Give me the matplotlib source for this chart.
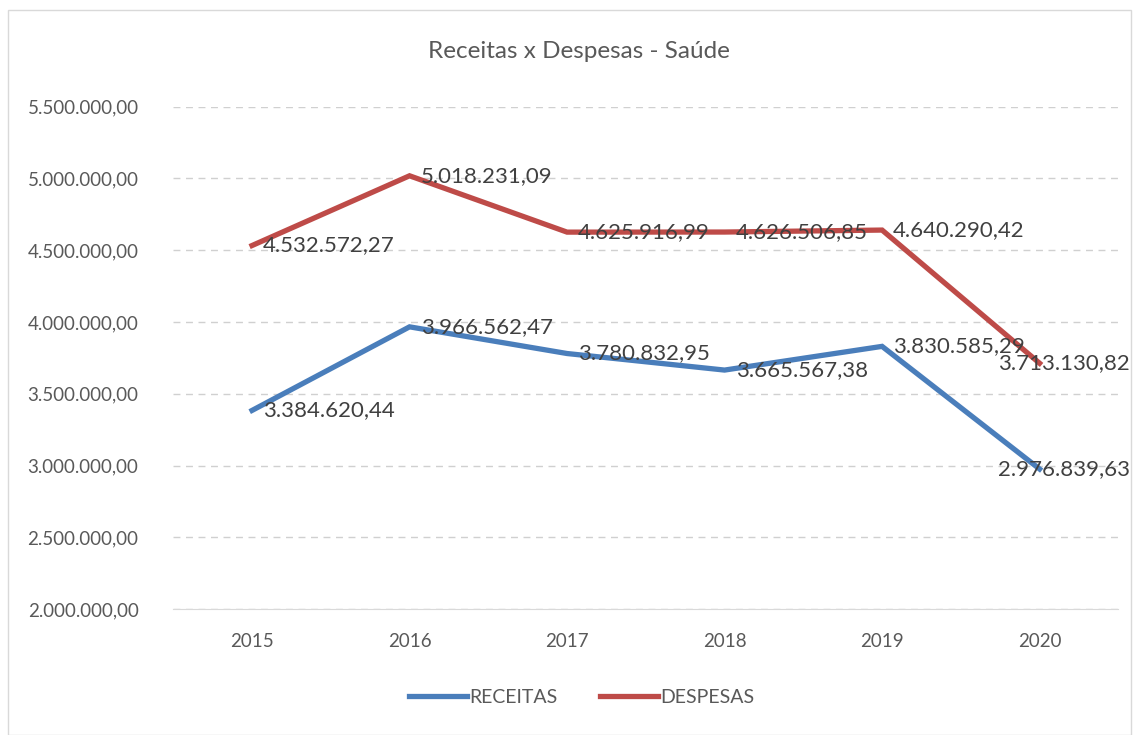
import matplotlib.pyplot as plt
from matplotlib.patches import Rectangle
from matplotlib.ticker import FuncFormatter

anos = ['2015', '2016', '2017', '2018', '2019', '2020']
receitas = [3384620.44, 3966562.47, 3780832.95, 3665567.38, 3830585.29, 2976839.63]
despesas = [4532572.27, 5018231.09, 4625916.99, 4626506.85, 4640290.42, 3713130.82]

plt.rcParams['font.family'] = ['Lato', 'DejaVu Sans']
cinza = '#595959'


def br(v, pos=None):
    s = f'{v:,.2f}'
    return s.replace(',', 'X').replace('.', ',').replace('X', '.')


fig = plt.figure(figsize=(11.4, 7.35), dpi=100)
ax = fig.add_axes([0.152, 0.171, 0.829, 0.684])

x = range(len(anos))
ax.plot(x, receitas, color='#4A7EBB', lw=3.8, label='RECEITAS', solid_joinstyle='miter')
ax.plot(x, despesas, color='#BE4B48', lw=3.8, label='DESPESAS', solid_joinstyle='miter')

# rótulos à direita do ponto; o último é puxado para dentro, como no Excel
for i in x:
    dx = 8 if i < len(anos) - 1 else -30
    ax.annotate(br(receitas[i]), (i, receitas[i]), xytext=(dx, 0), textcoords='offset points',
                va='center', ha='left', fontsize=16, color='#404040', clip_on=False)
    ax.annotate(br(despesas[i]), (i, despesas[i]), xytext=(dx, 0), textcoords='offset points',
                va='center', ha='left', fontsize=16, color='#404040', clip_on=False)

ax.set_xlim(-0.5, 5.5)
ax.set_ylim(2000000, 5500000)
ax.set_yticks(range(2000000, 5500001, 500000))
ax.yaxis.set_major_formatter(FuncFormatter(br))
ax.set_xticks(list(x))
ax.set_xticklabels(anos)
ax.grid(axis='y', color='#D0D0D0', ls=(0, (5, 4)), lw=1)
ax.set_axisbelow(True)
for s in ['top', 'right', 'left']:
    ax.spines[s].set_visible(False)
ax.spines['bottom'].set_color('#D9D9D9')
ax.tick_params(length=0, colors=cinza, labelsize=13.5)
ax.tick_params(axis='x', pad=17)
ax.tick_params(axis='y', pad=25)

fig.text(0.508, 0.93, 'Receitas x Despesas - Saúde', ha='center', va='center',
         fontsize=17.5, color=cinza)
fig.legend(loc='center', bbox_to_anchor=(0.51, 0.051), ncol=2, frameon=False,
           fontsize=14, labelcolor=cinza, handlelength=3.0, handletextpad=0.1,
           columnspacing=2.2)

fig.patches.append(Rectangle((0.007, 0.0), 0.985, 0.986, transform=fig.transFigure,
                             fill=False, edgecolor='#D9D9D9', lw=1))

fig.savefig('out.png')
